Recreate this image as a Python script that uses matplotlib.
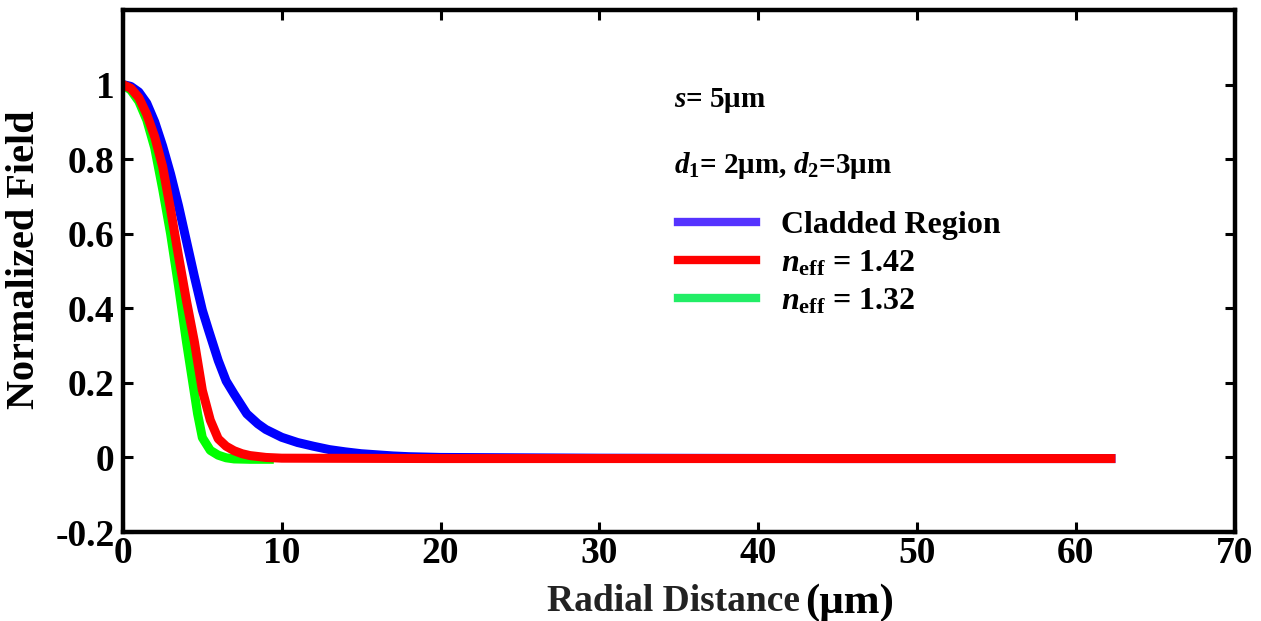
import matplotlib
matplotlib.use("Agg")
import matplotlib.pyplot as plt
from matplotlib.lines import Line2D

plt.rcParams['font.family'] = ['Liberation Serif', 'DejaVu Serif']
plt.rcParams['font.weight'] = 'bold'
plt.rcParams['axes.labelweight'] = 'bold'
plt.rcParams['axes.unicode_minus'] = False
plt.rcParams['mathtext.fontset'] = 'custom'
plt.rcParams['mathtext.rm'] = 'Liberation Serif:bold'
plt.rcParams['mathtext.it'] = 'Liberation Serif:bold:italic'
plt.rcParams['mathtext.bf'] = 'Liberation Serif:bold'

# radial distance (um) and normalized field
x_clad = [0, 0.5, 1.0, 1.5, 2.0, 2.5, 3.0, 3.5, 4.0, 4.5, 5.0, 5.4, 6.0, 6.5, 7.0, 7.8,
          8.5, 9.0, 10, 11, 12, 13, 14, 15, 16, 17, 18, 20, 30, 45, 62.5]
y_clad = [1.0, 0.995, 0.98, 0.95, 0.9, 0.835, 0.76, 0.675, 0.58, 0.485, 0.395, 0.34,
          0.26, 0.205, 0.17, 0.117, 0.09, 0.075, 0.054, 0.04, 0.03, 0.021, 0.015,
          0.01, 0.007, 0.004, 0.002, 0.0, -0.002, -0.003, -0.003]

x_142 = [0, 0.5, 1.0, 1.5, 2.0, 2.5, 3.0, 3.5, 4.0, 4.5, 5.0, 5.5, 6.0, 6.5, 7.0, 7.5,
         8.0, 9.0, 10, 20, 40, 62.5]
y_142 = [1.0, 0.99, 0.965, 0.92, 0.86, 0.78, 0.665, 0.54, 0.42, 0.31, 0.18, 0.1, 0.05,
         0.03, 0.018, 0.01, 0.005, 0.0, -0.002, -0.003, -0.003, -0.003]

x_132 = [0, 0.5, 1.0, 1.5, 2.0, 2.5, 3.0, 3.5, 4.0, 4.4, 4.7, 5.0, 5.5, 6.0, 6.5, 7.0,
         8.0, 9.5]
y_132 = [1.0, 0.985, 0.955, 0.905, 0.83, 0.72, 0.6, 0.46, 0.31, 0.2, 0.117, 0.053,
         0.019, 0.006, -0.001, -0.004, -0.005, -0.005]

labels = ['Cladded Region', r'$n_{\mathrm{eff}}$ = 1.42', r'$n_{\mathrm{eff}}$ = 1.32']
x_ticks = [0, 10, 20, 30, 40, 50, 60, 70]
y_ticks = [-0.2, 0, 0.2, 0.4, 0.6, 0.8, 1.0]

fig = plt.figure(figsize=(12.61, 6.21), dpi=100)
ax = fig.add_axes([0.0975, 0.1433, 0.8815, 0.8406])

lw = 6.5
ax.plot(x_clad, y_clad, color='#0000ff', lw=lw, solid_capstyle='butt')
ax.plot(x_132, y_132, color='#00ff00', lw=lw, solid_capstyle='butt')
ax.plot(x_142, y_142, color='#ff0000', lw=lw, solid_capstyle='butt')

ax.set_xlim(0, 70)
ax.set_ylim(-0.2, 1.2)
ax.set_xticks(x_ticks)
ax.set_yticks(y_ticks)
ax.set_yticklabels(['%g' % v for v in y_ticks])
ax.tick_params(direction='in', length=7, width=2.2, labelsize=27,
               top=True, right=True)
ax.tick_params(axis='x', pad=3)
ax.tick_params(axis='y', pad=6)
for sp in ax.spines.values():
    sp.set_linewidth(3.2)

ax.set_ylabel('Normalized Field', fontsize=29)
ax.yaxis.set_label_coords(-0.072, 0.521)
ax.text(0.609, -0.152, 'Radial Distance', transform=ax.transAxes, fontsize=27,
        ha='right', va='baseline', color='#222222')
ax.text(0.614, -0.155, '(μm)', transform=ax.transAxes, fontsize=31,
        ha='left', va='baseline')

ax.text(0.496, 0.814, r'$s$= 5μm', transform=ax.transAxes, fontsize=21)
ax.text(0.496, 0.688, r'$d_1$= 2μm, $d_2$=3μm', transform=ax.transAxes, fontsize=21)

handles = [Line2D([], [], color='#5533ff', lw=6),
           Line2D([], [], color='#ff0000', lw=6),
           Line2D([], [], color='#22ee66', lw=6)]
ax.legend(handles, labels, loc='upper left', bbox_to_anchor=(0.499, 0.615),
          frameon=False, fontsize=23, handlelength=2.45, handletextpad=0.8,
          labelspacing=0.27, borderpad=0, borderaxespad=0)

fig.savefig('out.png', dpi=100)
